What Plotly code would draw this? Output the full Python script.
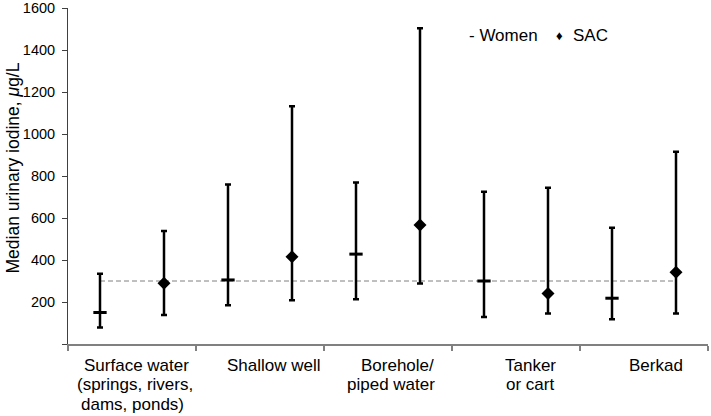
import plotly.graph_objects as go

categories = ["Surface water<br>(springs, rivers,<br>dams, ponds)", "Shallow well", "Borehole/<br>piped water", "Tanker<br>or cart", "Berkad"]
women_median = [150, 305, 428, 300, 218]
women_low = [78, 184, 213, 129, 118]
women_high = [335, 760, 769, 725, 553]
sac_median = [289, 415, 567, 240, 342]
sac_low = [138, 208, 288, 145, 145]
sac_high = [538, 1132, 1504, 744, 916]
reference_level = 300
y_ticks = [0, 200, 400, 600, 800, 1000, 1200, 1400, 1600]
y_title = "Median urinary iodine, <i>\u03bc</i>g/L"

W, H = 711, 416
ML, MR, MT, MB = 68, 3, 8, 72
PW, PH = W - ML - MR, H - MT - MB


def px(x):
    return (x - ML) / PW


def py(y):
    return (H - MB - y) / PH


idx = list(range(len(categories)))
xw = [i - 0.25 for i in idx]
xs = [i + 0.25 for i in idx]

fig = go.Figure()
fig.add_shape(type="line", xref="x", yref="y", x0=xw[0], x1=xs[-1],
              y0=reference_level, y1=reference_level,
              line=dict(color="#808080", width=1, dash="5px,3px"), layer="below")

fig.add_trace(go.Scatter(
    x=xw, y=women_median, mode="markers", name="Women",
    marker=dict(symbol="line-ew", size=9.5, line=dict(width=3, color="black"), color="black"),
    error_y=dict(type="data", symmetric=False,
                 array=[h - m for h, m in zip(women_high, women_median)],
                 arrayminus=[m - l for m, l in zip(women_median, women_low)],
                 color="black", thickness=2.5, width=3),
))
fig.add_trace(go.Scatter(
    x=xs, y=sac_median, mode="markers", name="SAC",
    marker=dict(symbol="diamond", size=10, color="black", line=dict(width=0)),
    error_y=dict(type="data", symmetric=False,
                 array=[h - m for h, m in zip(sac_high, sac_median)],
                 arrayminus=[m - l for m, l in zip(sac_median, sac_low)],
                 color="black", thickness=2.5, width=3),
))

# category label line positions (pixel centers)
label_x = [[136, 134.5, 132], [274], [397, 391], [530, 530], [656]]
line_y = [365, 384.5, 404]
for cat, xs_line in zip(categories, label_x):
    for j, (line, lx) in enumerate(zip(cat.split("<br>"), xs_line)):
        fig.add_annotation(x=px(lx), y=py(line_y[j]), xref="paper", yref="paper",
                           text=line, showarrow=False, xanchor="center", yanchor="middle",
                           font=dict(size=17, color="black"))

fig.add_annotation(x=px(467), y=py(35), xref="paper", yref="paper", text="- Women",
                   showarrow=False, xanchor="left", yanchor="middle",
                   font=dict(size=17, color="black"))
fig.add_annotation(x=px(554), y=py(35), xref="paper", yref="paper", text="\u2666",
                   showarrow=False, xanchor="left", yanchor="middle",
                   font=dict(size=13, color="black"))
fig.add_annotation(x=px(571), y=py(35), xref="paper", yref="paper", text="SAC",
                   showarrow=False, xanchor="left", yanchor="middle",
                   font=dict(size=17, color="black"))

fig.add_annotation(x=px(12.5), y=py(168), xref="paper", yref="paper", text=y_title,
                   showarrow=False, textangle=-90, xanchor="center", yanchor="middle",
                   font=dict(size=17.5, color="black"))

fig.update_layout(
    width=W, height=H,
    margin=dict(l=ML, r=MR, t=MT, b=MB),
    paper_bgcolor="white", plot_bgcolor="white",
    showlegend=False,
    font=dict(family="Liberation Sans, Arial, sans-serif", size=14.5, color="black"),
    xaxis=dict(range=[-0.5, len(categories) - 0.5], tickvals=[i - 0.5 for i in range(len(categories) + 1)],
               ticktext=[""] * (len(categories) + 1), ticks="outside", ticklen=5, tickcolor="#808080",
               tickwidth=1.5, showline=True, linecolor="#808080", linewidth=1.5, showgrid=False,
               zeroline=False, automargin=False),
    yaxis=dict(range=[0, 1600], tickvals=y_ticks, ticktext=[""] + [str(v) for v in y_ticks[1:]],
               ticks="outside", ticklen=5, tickcolor="#404040", showline=True, linecolor="#404040",
               linewidth=1, showgrid=False, zeroline=False, automargin=False,
               ticklabelstandoff=4, tickfont=dict(size=14.5)),
)

fig.write_html("out.html", config={"displayModeBar": False},
               post_script="document.body.style.margin='0';document.body.style.overflow='hidden';")
